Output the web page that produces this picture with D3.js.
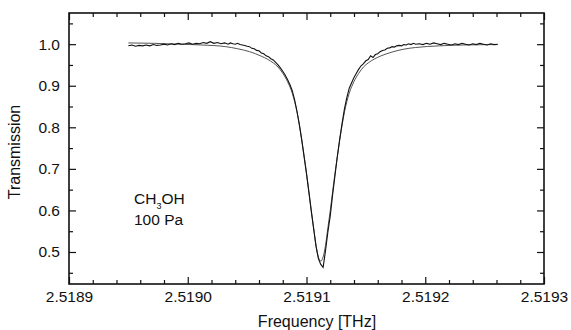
<!DOCTYPE html>
<html>
<head>
<meta charset="utf-8">
<script src="https://cdn.jsdelivr.net/npm/d3@7"></script>
<style>
  html, body { margin: 0; padding: 0; background: #fff; }
  svg { display: block; }
  text { font-family: "Liberation Sans", Arial, Helvetica, sans-serif; fill: #111; }
</style>
</head>
<body>
<svg id="chart" width="571" height="330"></svg>
<script>
// ---------- DATA ----------
const xMajorTicks = [2.5189, 2.5190, 2.5191, 2.5192, 2.5193];
const yMajorTicks = [0.5, 0.6, 0.7, 0.8, 0.9, 1.0];
const xLabel = "Frequency [THz]";
const yLabel = "Transmission";

// measured transmission (noisy trace)
const measFreq = [
  2.518950, 2.518953, 2.518956, 2.518959, 2.518962, 2.518965, 2.518968, 2.518971, 2.518974, 2.518977,
  2.518980, 2.518983, 2.518986, 2.518989, 2.518992, 2.518995, 2.518998, 2.519001, 2.519004, 2.519007,
  2.519010, 2.519013, 2.519016, 2.519019, 2.519022, 2.519025, 2.519028, 2.519031,
  2.519032, 2.519034, 2.519036, 2.519038, 2.519040, 2.519042, 2.519044, 2.519046, 2.519048, 2.519050,
  2.519052, 2.519054, 2.519056, 2.519058, 2.519060, 2.519062, 2.519064, 2.519066, 2.519068, 2.519070,
  2.519072, 2.519074, 2.519076, 2.519078, 2.519080, 2.519082, 2.519084, 2.519086, 2.519088, 2.519090,
  2.519092, 2.519094, 2.519096, 2.519098, 2.519100, 2.519102, 2.519104, 2.519106, 2.519108, 2.519110,
  2.519112, 2.519114, 2.519116, 2.519118, 2.519120, 2.519122, 2.519124, 2.519126, 2.519128, 2.519130,
  2.519132, 2.519134, 2.519136, 2.519138, 2.519140, 2.519142, 2.519144, 2.519146, 2.519148, 2.519150,
  2.519152, 2.519154, 2.519156, 2.519158, 2.519160, 2.519162, 2.519164, 2.519166, 2.519168, 2.519170,
  2.519172, 2.519174, 2.519176, 2.519178, 2.519180, 2.519182, 2.519184, 2.519186, 2.519188, 2.519190,
  2.519192,
  2.519195, 2.519198, 2.519201, 2.519204, 2.519207, 2.519210, 2.519213, 2.519216, 2.519219, 2.519222,
  2.519225, 2.519228, 2.519231, 2.519234, 2.519237, 2.519240, 2.519243, 2.519246, 2.519249, 2.519252,
  2.519255, 2.519258, 2.519261
];
const measTrans = [
  0.996, 0.998, 0.995, 0.997, 0.996, 0.998, 0.996, 0.999, 0.997, 0.998,
  1.000, 0.998, 1.001, 0.999, 1.002, 1.000, 1.001, 1.003, 1.000, 1.002,
  1.001, 1.004, 1.002, 1.006, 1.002, 1.004, 1.001, 1.003,
  1.002, 1.000, 1.003, 1.001, 1.000, 1.002, 0.999, 0.998, 0.997, 0.995,
  0.994, 0.990, 0.989, 0.985, 0.984, 0.979, 0.977, 0.972, 0.970, 0.965,
  0.962, 0.956, 0.950, 0.943, 0.935, 0.926, 0.915, 0.903, 0.888, 0.866,
  0.838, 0.806, 0.769, 0.729, 0.688, 0.644, 0.599, 0.556, 0.514, 0.484,
  0.470, 0.463, 0.503, 0.548, 0.587, 0.638, 0.684, 0.731, 0.772, 0.810,
  0.845, 0.872, 0.894, 0.907, 0.920, 0.930, 0.940, 0.948, 0.953, 0.960,
  0.963, 0.972, 0.968, 0.975, 0.977, 0.982, 0.985, 0.986, 0.990, 0.991,
  0.994, 0.993, 0.996, 0.997, 0.996, 0.999, 0.998, 1.001, 0.999, 1.002,
  1.000,
  1.001, 0.999, 1.002, 1.000, 1.003, 1.001, 0.999, 1.002, 1.000, 0.998,
  1.001, 0.999, 1.002, 1.000, 0.998, 1.001, 0.999, 1.002, 1.000, 0.998,
  1.001, 0.999, 1.000
];

// fitted line profile (smooth curve)
const fitFreq = [
  2.518950, 2.518972, 2.518992, 2.519012, 2.519032, 2.519042, 2.519052, 2.519062, 2.519067, 2.519072,
  2.519076, 2.519080, 2.519084, 2.519088, 2.519092, 2.519094, 2.519096, 2.519098, 2.519100, 2.519102,
  2.519104, 2.519106, 2.519108, 2.519110, 2.519112, 2.519114, 2.519116, 2.519118, 2.519120, 2.519122,
  2.519124, 2.519126, 2.519128, 2.519130, 2.519132, 2.519136, 2.519140, 2.519144, 2.519148, 2.519152,
  2.519157, 2.519162, 2.519172, 2.519182, 2.519192, 2.519212, 2.519232, 2.519261
];
const fitTrans = [
  1.003, 1.002, 1.000, 0.998, 0.994, 0.989, 0.982, 0.971, 0.964, 0.955,
  0.945, 0.930, 0.910, 0.882, 0.837, 0.806, 0.770, 0.730, 0.690, 0.645,
  0.600, 0.558, 0.516, 0.488, 0.478, 0.488, 0.516, 0.558, 0.600, 0.645,
  0.690, 0.730, 0.770, 0.806, 0.837, 0.882, 0.910, 0.930, 0.945, 0.955,
  0.964, 0.971, 0.981, 0.988, 0.992, 0.996, 0.998, 0.999
];

const annotationSpecies = ["CH", "3", "OH"];
const annotationPressure = "100 Pa";

// ---------- DRAWING ----------
const svg = d3.select("#chart");
const padL = 69, padR = 544, padT = 13, padB = 284;

const x = d3.scaleLinear().domain([2.5189, 2.5193]).range([padL, padR]);
const y = d3.scaleLinear().domain([0.423, 1.075]).range([padB, padT]);

const xMinorTicks = [
  2.51892, 2.51894, 2.51896, 2.51898,
  2.51902, 2.51904, 2.51906, 2.51908,
  2.51912, 2.51914, 2.51916, 2.51918,
  2.51922, 2.51924, 2.51926, 2.51928
];
const yMinorTicks = [0.45, 0.55, 0.65, 0.75, 0.85, 0.95, 1.05];

function styleAxis(g) {
  g.select(".domain").remove();
  g.selectAll(".tick line").attr("stroke", "#111").attr("stroke-width", 1.2);
  g.selectAll(".tick text").style("font-size", "15.5px").attr("fill", "#111")
    .style("font-family", "'Liberation Sans', Arial, Helvetica, sans-serif");
}

// bottom
svg.append("g").attr("transform", `translate(0,${padB})`)
  .call(d3.axisBottom(x).tickValues(xMajorTicks).tickFormat(d3.format(".4f")).tickSize(-7).tickPadding(7))
  .call(styleAxis);
svg.append("g").attr("transform", `translate(0,${padB})`)
  .call(d3.axisBottom(x).tickValues(xMinorTicks).tickFormat("").tickSize(-4))
  .call(styleAxis);
// top
svg.append("g").attr("transform", `translate(0,${padT})`)
  .call(d3.axisTop(x).tickValues(xMajorTicks).tickFormat("").tickSize(-7))
  .call(styleAxis);
svg.append("g").attr("transform", `translate(0,${padT})`)
  .call(d3.axisTop(x).tickValues(xMinorTicks).tickFormat("").tickSize(-4))
  .call(styleAxis);
// left
svg.append("g").attr("transform", `translate(${padL},0)`)
  .call(d3.axisLeft(y).tickValues(yMajorTicks).tickFormat(d3.format(".1f")).tickSize(-7).tickPadding(9))
  .call(styleAxis);
svg.append("g").attr("transform", `translate(${padL},0)`)
  .call(d3.axisLeft(y).tickValues(yMinorTicks).tickFormat("").tickSize(-4))
  .call(styleAxis);
// right
svg.append("g").attr("transform", `translate(${padR},0)`)
  .call(d3.axisRight(y).tickValues(yMajorTicks).tickFormat("").tickSize(-7))
  .call(styleAxis);
svg.append("g").attr("transform", `translate(${padR},0)`)
  .call(d3.axisRight(y).tickValues(yMinorTicks).tickFormat("").tickSize(-4))
  .call(styleAxis);

// frame
svg.append("rect")
  .attr("x", padL).attr("y", padT)
  .attr("width", padR - padL).attr("height", padB - padT)
  .attr("fill", "none").attr("stroke", "#111").attr("stroke-width", 1.6);

// fit curve
const fitPts = fitFreq.map((f, i) => [f, fitTrans[i]]);
svg.append("path")
  .datum(fitPts)
  .attr("fill", "none").attr("stroke", "#555").attr("stroke-width", 1)
  .attr("d", d3.line().x(d => x(d[0])).y(d => y(d[1])).curve(d3.curveMonotoneX));

// measured trace
const measPts = measFreq.map((f, i) => [f, measTrans[i]]);
svg.append("path")
  .datum(measPts)
  .attr("fill", "none").attr("stroke", "#111").attr("stroke-width", 1.1)
  .attr("d", d3.line().x(d => x(d[0])).y(d => y(d[1])));

// axis titles
svg.append("text")
  .attr("x", 317).attr("y", 327)
  .attr("text-anchor", "middle")
  .style("font-size", "16px")
  .text(xLabel);

svg.append("text")
  .attr("transform", "translate(20,152) rotate(-90)")
  .attr("text-anchor", "middle")
  .style("font-size", "16px")
  .text(yLabel);

// annotation
const ann = svg.append("text").attr("x", 134).attr("y", 204).style("font-size", "15.5px");
ann.append("tspan").text(annotationSpecies[0]);
ann.append("tspan").attr("dy", 5).style("font-size", "9px").text(annotationSpecies[1]);
ann.append("tspan").attr("dy", -5).text(annotationSpecies[2]);

svg.append("text").attr("x", 134).attr("y", 225).style("font-size", "15.5px").text(annotationPressure);
</script>
</body>
</html>
